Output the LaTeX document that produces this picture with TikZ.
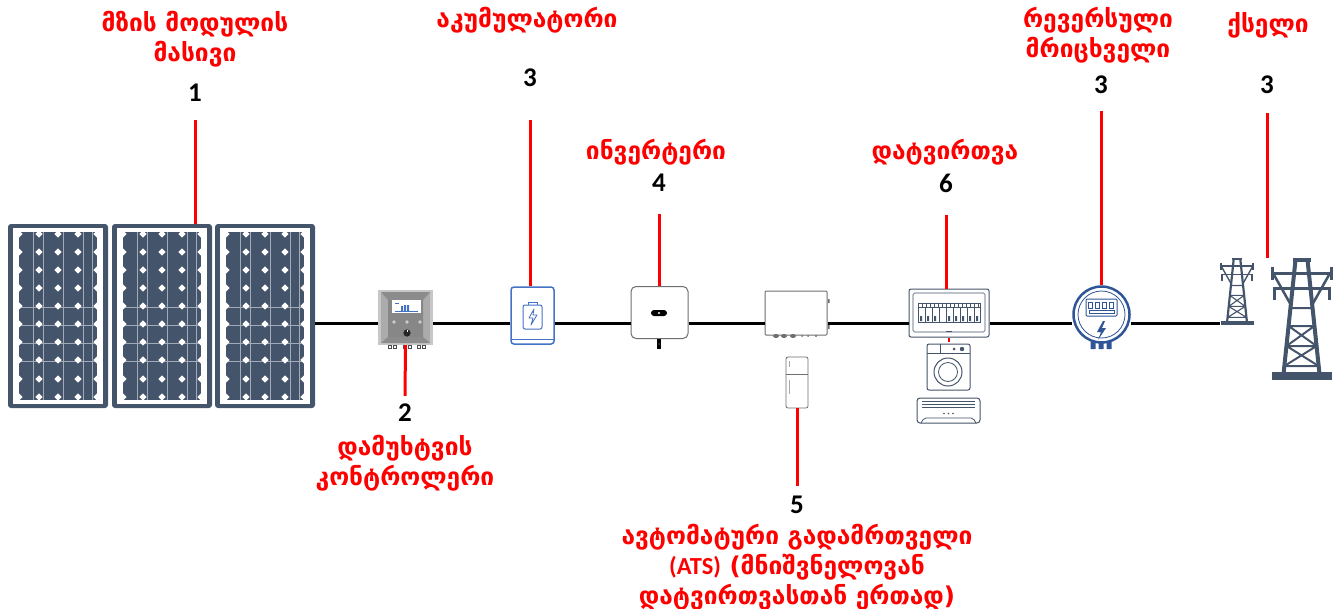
\documentclass[tikz,border=0pt]{standalone}
\usepackage{fontspec}
\usepackage{tikz}
\usetikzlibrary{positioning}

\newfontfamily\geofont{DejaVu Sans}
\newfontfamily\numfont{Carlito}

\definecolor{slate}{HTML}{44546A}
\definecolor{slatelight}{HTML}{A3ABB8}
\definecolor{meterblue}{HTML}{2F5597}
\definecolor{batblue}{HTML}{4472C4}
\definecolor{devgray}{HTML}{6E6E6E}

% pylon: #1 scale, #2 top centre
\newcommand{\pylon}[2]{%
  \begin{scope}[shift={#2}, scale=#1, slate]
    \fill (-9,0) rectangle (9,4);
    \draw[line width=#1*4pt] (-6,2) -- (-18,116) (6,2) -- (18,116);
    \draw[line width=#1*3pt] (-31,15) -- (31,15) (-29,30) -- (29,30);
    \draw[line width=#1*3pt] (-29.5,9) -- (-29.5,22) (29.5,9) -- (29.5,22)
      (-27.5,30) -- (-27.5,42) (27.5,30) -- (27.5,42);
    \draw[line width=#1*2.5pt] (-28,16) -- (-10,48) (28,16) -- (10,48);
    \draw[line width=#1*2pt] (-11,50) -- (11,50) (-12.9,68) -- (12.9,68)
      (-15,88) -- (15,88) (-17.1,108) -- (17.1,108)
      (-12.9,68) -- (15,88) (12.9,68) -- (-15,88)
      (-15,88) -- (17.1,108) (15,88) -- (-17.1,108);
    \fill (-30,114) rectangle (30,122);
  \end{scope}}

\begin{document}
\begin{tikzpicture}[x=1pt, y=-1pt,
    caption/.style={text=red, font=\geofont\bfseries\fontsize{24.5}{30}\selectfont,
      align=center, inner sep=0pt},
    number/.style={font=\numfont\bfseries\fontsize{27}{28}\selectfont, inner sep=0pt},
    lead/.style={red, line width=3pt},
    wire/.style={black, line width=3pt},
    pvframe/.style={rectangle, fill=slate, rounded corners=3pt, inner sep=0pt,
      minimum width=100pt, minimum height=184pt},
    ctrlbox/.style={rectangle, fill=black!22, inner sep=0pt,
      minimum width=55pt, minimum height=55pt},
    batbox/.style={rectangle, rounded corners=3pt, draw=batblue, line width=1.5pt,
      fill=white, inner sep=0pt, minimum width=43pt, minimum height=57pt},
    invbox/.style={rectangle, rounded corners=5pt, draw=devgray, line width=1pt,
      fill=white, inner sep=0pt, minimum width=57pt, minimum height=52pt},
    atsbox/.style={rectangle, rounded corners=1pt, draw=devgray, line width=1pt,
      fill=white, inner sep=0pt, minimum width=62pt, minimum height=44pt},
    fridgebox/.style={rectangle, rounded corners=2pt, draw=devgray, line width=0.8pt,
      fill=white, inner sep=0pt, minimum width=22pt, minimum height=51pt},
    dbbox/.style={rectangle, rounded corners=2pt, draw=slate, line width=1pt,
      fill=white, inner sep=0pt, minimum width=80pt, minimum height=48pt},
    washbox/.style={rectangle, rounded corners=2pt, draw=slate, line width=1pt,
      fill=white, inner sep=0pt, minimum width=43pt, minimum height=46pt},
    acbox/.style={rectangle, rounded corners=3pt, draw=slate, line width=1pt,
      fill=white, inner sep=0pt, minimum width=63pt, minimum height=25pt},
    meterring/.style={circle, draw=meterblue, line width=2.5pt, fill=white,
      inner sep=0pt, minimum size=56pt},
    mast/.style={rectangle, inner sep=0pt},
  ]
  \useasboundingbox (0,0) rectangle (1340,608);
  \coordinate (bus) at (0,323);

  % solar panels
  \foreach \i/\x in {1/8,2/112,3/215}{
    \node[pvframe] (pv\i) at (\x+50,316) {};
    \begin{scope}[shift={(\x,224)}]
      \fill[white] (5,4) rectangle (95,180);
      \fill[slate] (11,8) rectangle (89,176);
      \draw[slatelight, line width=0.7pt]
        \foreach \u in {25,35,55,75,84}{(\u,8) -- (\u,176)}
        \foreach \v in {83,101,119,137}{(11,\v) -- (89,\v)};
      \fill[white] \foreach \u in {11,31,50,70,89}{
        \foreach \v in {10,28,46,64,82,100,118,136,155,173}{
          (\u,\v) +(0,-3.6) -- +(3.6,0) -- +(0,3.6) -- +(-3.6,0) -- cycle}};
    \end{scope}
  }

  % charge controller
  \node[ctrlbox] (ctrl) at (405.5,317.5) {};
  \fill[black!33] (381,292) -- (430,292) -- (430,343) -- (381,343) -- cycle;
  \fill[black!45] (381,292) -- (430,292) -- (423,300) -- (423,337) -- (430,343)
    -- (381,343) -- (388,337) -- (388,300) -- cycle;
  \fill[black!47] (388,300) rectangle (423,337);
  \fill[white] (392,300) rectangle (421,313);
  \fill[batblue] (401,306) rectangle (403,311) (404,305) rectangle (406,311)
    (407,305) rectangle (409,311);
  \draw[batblue, line width=0.4pt] (395,311.5) -- (418,311.5) (395,303) -- (399,303);
  \fill[black!20] (394,322) circle (1.8) (407,322) circle (1.8) (420,322) circle (1.8);
  \fill[black!85] (407,333) circle (3.6);
  \draw[white, line width=0.6pt] (407,329.5) -- (407,332);
  \draw[black!70, line width=0.6pt] \foreach \u in {388,393,403,408,417,422}{
    (\u,345) rectangle (\u+3,348.5)};

  % battery
  \node[batbox] (bat) at (532.5,315.5) {};
  \draw[batblue, line width=1.5pt] (511.5,339.5) -- (553.5,339.5);
  \draw[batblue, line width=1pt, rounded corners=2pt] (523,305) rectangle (542,329);
  \draw[batblue, line width=1pt] (528,305) -- (528,302.5) -- (537,302.5) -- (537,305);
  \draw[batblue, line width=0.8pt, line join=round] (534,309) -- (529,318) -- (533,318)
    -- (531,325) -- (537,315) -- (533,315) -- cycle;

  % inverter
  \node[invbox] (inv) at (659.5,312.5) {};
  \fill[black, rounded corners=3pt] (651,310) rectangle (667,316);
  \fill[white] (659,313) circle (1.2);
  \fill[black] (657,339) rectangle (661,349);
  \fill[white] (659,344) circle (0.5);

  % transfer switch and fridge
  \node[atsbox] (ats) at (796,313) {};
  \fill[devgray] (776,336) ellipse (3 and 2) (784,336) ellipse (3 and 2)
    (793,336) ellipse (3 and 2) (802,336) circle (1) (808,336) circle (1)
    (816,336) circle (1.2);
  \fill[devgray] (828,299) rectangle (829.5,303) (828,325) rectangle (829.5,329);
  \node[fridgebox] (fridge) at (797,382.5) {};
  \draw[devgray, line width=0.8pt] (786,374) -- (808,374);
  \draw[devgray!60, line width=1pt] (789,361) -- (789,367) (789,380) -- (789,394);

  % distribution board and loads
  \node[dbbox] (ldb) at (949,313) {};
  \draw[red, line width=2.5pt] (ldb.south) -- ([yshift=-4pt]ldb.south);
  \draw[slate, line width=0.6pt, rounded corners=1.5pt] (913,293) rectangle (985,332);
  \draw[slate, line width=0.6pt] (918,303) rectangle (980,322) (918,307) -- (980,307);
  \draw[slate, line width=0.4pt] \foreach \u in {922,926,...,978}{(\u,303) -- (\u,307)};
  \draw[slate, line width=0.4pt]
    \foreach \u in {925,932,939,946,953,960,967,974}{(\u,307) -- (\u,322)};
  \fill[slate] \foreach \u in {920,927,934,948,955,962,969,976}{
    (\u,316) rectangle (\u+2,321)};
  \draw[slate, line width=0.8pt] (946,331) -- (952,331);
  \node[washbox] (wash) at (948.5,367) {};
  \draw[slate, line width=0.8pt] (927,353) -- (970,353) (940,344) -- (940,353);
  \fill[slate] (954,349) circle (1.5) (962,349) circle (2.2);
  \draw[slate, line width=1pt] (948,372) circle (14);
  \draw[slate, line width=0.8pt] (948,372) circle (9.5);
  \node[acbox] (ac) at (948.5,410.5) {};
  \draw[slate, line width=0.6pt] (922,401) -- (975,401) (922,404) -- (975,404)
    (922,407) -- (975,407);
  \fill[slate] (944,413.5) circle (0.8) (948.5,413.5) circle (0.8) (953,413.5) circle (0.8);
  \draw[slate, line width=0.8pt, rounded corners=2pt] (921,423) -- (924,418)
    -- (973,418) -- (976,423);

  % reverse meter
  \node[meterring] (meter) at (1101.5,314.5) {};
  \draw[meterblue, line width=0.8pt] (1101.5,314.5) circle (23.5);
  \draw[meterblue, line width=1pt, rounded corners=1pt] (1086,299) rectangle (1117,316);
  \draw[meterblue, line width=0.6pt]
    \foreach \u in {1090,1097,1104,1111}{(\u-2.2,302) rectangle (\u+2.2,308)};
  \draw[meterblue, line width=0.7pt] (1089,310.5) rectangle (1114,313.5);
  \fill[meterblue] (1103,321) -- (1097,332) -- (1101,332) -- (1098,340) -- (1106,328)
    -- (1102,328) -- (1105,321) -- cycle;
  \fill[meterblue] \foreach \u in {1093,1101,1109}{(\u-2.5,342) rectangle (\u+2.5,349)};

  % grid
  \node[mast, minimum width=34pt, minimum height=67pt] (tw1) at (1237,291.5) {};
  \node[mast, minimum width=63pt, minimum height=122pt] (tw2) at (1301.5,319) {};
  \pylon{0.55}{(1237,258)}
  \pylon{1}{(1301.5,258)}

  % main line
  \draw[wire] (pv3.east |- bus) -- (ctrl.west |- bus);
  \draw[wire] (ctrl.east |- bus) -- (bat.west |- bus);
  \draw[wire] (bat.east |- bus) -- (inv.west |- bus);
  \draw[wire] (inv.east |- bus) -- (ats.west |- bus);
  \draw[wire] (ats.east |- bus) -- (ldb.west |- bus);
  \draw[wire] (ldb.east |- bus) -- (meter.west |- bus);
  \draw[wire] (meter.east |- bus) -- (tw1.west |- bus);

  % labels
  \node[caption] (cap1) at (195,39) {მზის მოდულის\\მასივი};
  \node[number] (num1) at (195,93) {1};
  \node[caption] (cap3) at (527,20) {აკუმულატორი};
  \node[number] (num3) at (530,78) {3};
  \node[caption] (cap4) at (656,152) {ინვერტერი};
  \node[number] (num4) at (659,183) {4};
  \node[caption] (cap6) at (945,152) {დატვირთვა};
  \node[number] (num6) at (946,183) {6};
  \node[caption] (capm) at (1098,35) {რევერსული\\მრიცხველი};
  \node[number] (numm) at (1101,85) {3};
  \node[caption] (capg) at (1268,25) {ქსელი};
  \node[number] (numg) at (1267,85) {3};
  \node[number] (num2) at (405,413) {2};
  \node[caption] (cap2) at (405,463) {დამუხტვის\\კონტროლერი};
  \node[number] (num5) at (797,505) {5};
  \node[caption] (cap5) at (797,567) {ავტომატური გადამრთველი\\
    {\numfont\bfseries(ATS)} (მნიშვნელოვან\\დატვირთვასთან ერთად)};

  % pointers
  \draw[lead] ([yshift=-18pt]num1.south) -- (num1.south |- pv2.north);
  \draw[lead] ([yshift=-33pt]num3.south) -- (num3.south |- bat.north);
  \draw[lead] ([yshift=-22pt]num4.south) -- (num4.south |- inv.north);
  \draw[lead] ([yshift=-22pt]num6.south) -- (num6.south |- ldb.north);
  \draw[lead] ([yshift=-17pt]numm.south) -- (numm.south |- meter.north);
  \draw[lead] ([yshift=-19pt]numg.south) -- (numg.south |- tw2.north);
  \draw[lead] (ctrl.south) -- ([yshift=8pt]num2.north);
  \draw[lead] (fridge.south) -- ([yshift=10pt]num5.north);
\end{tikzpicture}
\end{document}
